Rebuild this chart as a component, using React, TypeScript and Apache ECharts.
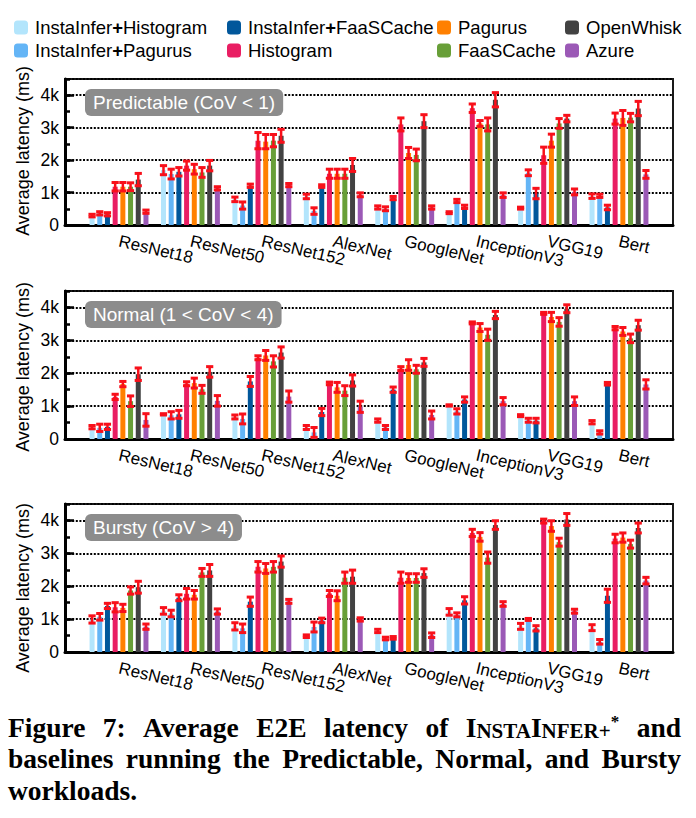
import React, { useEffect, useRef } from "react";
import * as echarts from "echarts";

// ---------------- data ----------------
const models = ["ResNet18", "ResNet50", "ResNet152", "AlexNet", "GoogleNet", "InceptionV3", "VGG19", "Bert"];
const methods = [
  "InstaInfer+Histogram",
  "InstaInfer+Pagurus",
  "InstaInfer+FaaSCache",
  "Histogram",
  "Pagurus",
  "FaaSCache",
  "OpenWhisk",
  "Azure",
];
const panelTitles = ["Predictable (CoV < 1)", "Normal (1 < CoV < 4)", "Bursty (CoV > 4)"];
const yTickLabels = ["0", "1k", "2k", "3k", "4k"];
const yAxisTitle = "Average latency (ms)";

// rows follow `methods`, columns follow `models` (ms)
const predictableLatency = [
  [290, 1690, 790, 880, 540, 380, 520, 890],
  [360, 1570, 600, 430, 500, 740, 1610, 900],
  [330, 1640, 1210, 1200, 830, 560, 970, 540],
  [1180, 1830, 2600, 1580, 3100, 3600, 2150, 3280],
  [1180, 1720, 2570, 1580, 2220, 3130, 2600, 3300],
  [1180, 1620, 2600, 1580, 2160, 3100, 3130, 3310],
  [1400, 1830, 2750, 1850, 3200, 3860, 3280, 3590],
  [410, 1130, 1230, 930, 540, 920, 1020, 1560],
];
const predictableError = [
  [40, 140, 70, 70, 50, 30, 30, 70],
  [50, 150, 110, 100, 60, 50, 90, 50],
  [50, 130, 50, 40, 50, 50, 160, 70],
  [130, 140, 250, 140, 200, 130, 250, 170],
  [130, 150, 220, 140, 170, 90, 200, 230],
  [120, 150, 190, 140, 180, 200, 150, 130],
  [190, 160, 200, 200, 200, 220, 100, 220],
  [50, 50, 50, 60, 50, 70, 90, 120],
];
const normalLatency = [
  [360, 750, 670, 350, 560, 1020, 710, 510],
  [340, 720, 610, 200, 350, 840, 570, 200],
  [370, 750, 1750, 820, 1500, 1200, 560, 1680],
  [1280, 1680, 2470, 1690, 2140, 3530, 3820, 3370],
  [1670, 1700, 2540, 1570, 2250, 3390, 3710, 3270],
  [1150, 1510, 2360, 1470, 2120, 3170, 3560, 3060],
  [1970, 2040, 2630, 1780, 2330, 3770, 3960, 3460],
  [580, 1160, 1290, 980, 730, 1150, 1150, 1660],
];
const normalError = [
  [50, 20, 60, 60, 50, 20, 30, 50],
  [110, 110, 150, 150, 60, 80, 60, 50],
  [80, 120, 150, 110, 80, 80, 70, 40],
  [80, 60, 60, 40, 60, 30, 30, 50],
  [80, 150, 150, 150, 160, 120, 140, 120],
  [160, 120, 170, 150, 120, 170, 130, 130],
  [190, 160, 170, 170, 120, 110, 120, 150],
  [190, 160, 170, 170, 120, 110, 130, 140],
];
const burstyLatency = [
  [990, 1250, 780, 480, 640, 1220, 780, 740],
  [1070, 1170, 720, 760, 410, 1130, 990, 310],
  [1400, 1650, 1530, 960, 430, 1570, 720, 1710],
  [1360, 1770, 2590, 1780, 2260, 3620, 3980, 3450],
  [1340, 1740, 2540, 1710, 2250, 3500, 3830, 3480],
  [1870, 2420, 2590, 2260, 2250, 2870, 3340, 3280],
  [1970, 2480, 2750, 2290, 2400, 3860, 4030, 3770],
  [770, 1230, 1540, 990, 510, 1460, 1240, 2170],
];
const burstyError = [
  [110, 100, 110, 40, 50, 100, 90, 90],
  [100, 100, 130, 150, 40, 60, 30, 70],
  [80, 90, 140, 70, 40, 110, 80, 200],
  [140, 160, 160, 90, 170, 110, 60, 130],
  [110, 130, 150, 150, 130, 130, 160, 140],
  [110, 120, 160, 170, 130, 170, 120, 120],
  [180, 180, 170, 200, 130, 130, 180, 150],
  [80, 80, 60, 50, 70, 70, 60, 100],
];

// caption words
const captionLine1 = ["Figure", "7:", "Average", "E2E", "latency", "of", "INSTAINFER+*", "and"];
const captionLine2 = ["baselines", "running", "the", "Predictable,", "Normal,", "and", "Bursty"];
const captionLine3 = ["workloads."];

// ---------------- styling / layout ----------------
const colors = ["#b3e5fc", "#64b5f6", "#01579b", "#e91e63", "#ff8000", "#689f38", "#424242", "#9b59b6"];
const ERR_COLOR = "#f8101a";
const SANS = "'Liberation Sans', Arial, Helvetica, sans-serif";
const SERIF_NAME = "Liberation Serif";
const SERIF = "'Liberation Serif', 'Times New Roman', serif";
const panelTops = [79, 291, 504];
const panelHeights = [146, 148, 148];
const nameCenters = [151, 367, 588];
const FRAME_LEFT = 65;
const FRAME_RIGHT = 23;
const BAR_LEFT = 83.3;
const BAR_RIGHT = 41.3;
const BAR_W = 5;
const GAP = 0.54;
const PITCH = BAR_W * (1 + GAP);
const GROUP_W = methods.length * BAR_W + (methods.length - 1) * BAR_W * GAP;
const Y_MAX = 4500;
const CAP_SIZE = 27.5;
const CAP_SMALL = 21;
const CAP_SUP = 17;
const CAP_LEFT = 8;
const CAP_RIGHT = 681;
const capLineY = [727, 758, 790];

const legendCols = [
  { left: 14, items: [methods[0], methods[1]] },
  { left: 227, items: [methods[2], methods[3]] },
  { left: 437, items: [methods[4], methods[5]] },
  { left: 565, items: [methods[6], methods[7]] },
];

let measureCtx: CanvasRenderingContext2D | null = null;
function textWidth(t: string, size: number) {
  if (!measureCtx) measureCtx = document.createElement("canvas").getContext("2d");
  if (!measureCtx) return t.length * size * 0.5;
  measureCtx.font = `bold ${size}px '${SERIF_NAME}'`;
  return measureCtx.measureText(t).width;
}

// a word rendered as rich text parts (small caps for the system name)
function wordParts(word: string): { rich: string; width: number } {
  if (word === "INSTAINFER+*") {
    const parts: [string, string, number][] = [
      ["n", "I", CAP_SIZE],
      ["s", "NSTA", CAP_SMALL],
      ["n", "I", CAP_SIZE],
      ["s", "NFER+", CAP_SMALL],
      ["sup", "*", CAP_SUP],
    ];
    return {
      rich: parts.map(([k, t]) => `{${k}|${t}}`).join(""),
      width: parts.reduce((a, [, t, s]) => a + textWidth(t, s), 0),
    };
  }
  return { rich: `{n|${word}}`, width: textWidth(word, CAP_SIZE) };
}

function captionLine(words: string[], y: number, justify: boolean) {
  const items = words.map(wordParts);
  const total = items.reduce((a, b) => a + b.width, 0);
  const space = textWidth(" ", CAP_SIZE);
  const gap = justify && items.length > 1 ? (CAP_RIGHT - CAP_LEFT - total) / (items.length - 1) : space;
  const rich = {
    n: { fontSize: CAP_SIZE, fontWeight: "bold", fontFamily: SERIF, fill: "#000", verticalAlign: "bottom" },
    s: { fontSize: CAP_SMALL, fontWeight: "bold", fontFamily: SERIF, fill: "#000", verticalAlign: "bottom" },
    sup: { fontSize: CAP_SUP, fontWeight: "bold", fontFamily: SERIF, fill: "#000", verticalAlign: "top" },
  };
  let x = CAP_LEFT;
  return items.map((it) => {
    const el = {
      type: "text",
      x,
      y,
      style: { text: it.rich, rich, textVerticalAlign: "middle" },
    };
    x += it.width + gap;
    return el;
  });
}

function buildOption() {
  const latency = [predictableLatency, normalLatency, burstyLatency];
  const errors = [predictableError, normalError, burstyError];
  const grid: any[] = [];
  const xAxis: any[] = [];
  const yAxis: any[] = [];
  const series: any[] = [];
  const graphic: any[] = [];
  const title: any[] = [];

  for (let p = 0; p < 3; p++) {
    const top = panelTops[p];
    const height = panelHeights[p];
    grid.push({
      left: FRAME_LEFT,
      right: FRAME_RIGHT,
      top,
      height,
      show: true,
      borderColor: "#1a1a1a",
      borderWidth: 2,
      backgroundColor: "transparent",
      outerBoundsMode: "none",
      containLabel: false,
    });
    grid.push({
      left: BAR_LEFT,
      right: BAR_RIGHT,
      top,
      height,
      outerBoundsMode: "none",
      containLabel: false,
    });
    xAxis.push({
      type: "value",
      gridIndex: 2 * p,
      min: 0,
      max: 1,
      axisLine: { show: true, onZero: false, lineStyle: { color: "#000", width: 3 } },
      axisTick: { show: false },
      axisLabel: { show: false },
      splitLine: { show: false },
    });
    const bx = xAxis.length;
    xAxis.push({
      type: "category",
      gridIndex: 2 * p + 1,
      data: models,
      axisLine: { show: false },
      axisTick: { show: false },
      splitLine: { show: false },
      axisLabel: {
        interval: 0,
        rotate: -13,
        margin: 16,
        fontSize: 17,
        color: "#000",
        fontFamily: SANS,
      },
    });
    yAxis.push({
      type: "value",
      gridIndex: 2 * p,
      min: 0,
      max: Y_MAX,
      interval: 1000,
      axisLine: { show: true, onZero: false, lineStyle: { color: "#000", width: 3 } },
      axisTick: { show: true, inside: true, length: 9, lineStyle: { color: "#000", width: 2.5 } },
      axisLabel: {
        showMaxLabel: false,
        margin: 6,
        fontSize: 17.5,
        color: "#000",
        fontFamily: SANS,
        formatter: (v: number) => yTickLabels[Math.round(v / 1000)] ?? "",
      },
      splitLine: { show: true, lineStyle: { color: "#000", width: 2, type: [2, 1.6] } },
    });
    const by = yAxis.length;
    yAxis.push({
      type: "value",
      gridIndex: 2 * p + 1,
      min: 0,
      max: Y_MAX,
      interval: 500,
      offset: BAR_LEFT - FRAME_LEFT,
      axisLine: { show: false },
      axisTick: { show: true, inside: true, length: 5, lineStyle: { color: "#000", width: 2.5 } },
      axisLabel: { show: false },
      splitLine: { show: false },
    });

    methods.forEach((m, s) => {
      series.push({
        type: "bar",
        name: m,
        xAxisIndex: bx,
        yAxisIndex: by,
        data: latency[p][s],
        barWidth: BAR_W,
        barGap: `${GAP * 100}%`,
        itemStyle: { color: colors[s] },
        emphasis: { disabled: true },
        z: 2,
      });
    });

    const errData: number[][] = [];
    methods.forEach((_, s) => {
      models.forEach((__, c) => {
        errData.push([c, latency[p][s][c], errors[p][s][c], s]);
      });
    });
    series.push({
      type: "custom",
      name: "err" + p,
      xAxisIndex: bx,
      yAxisIndex: by,
      z: 10,
      silent: true,
      encode: { x: 0, y: 1 },
      data: errData,
      renderItem: (_params: any, api: any) => {
        const cat = api.value(0);
        const v = api.value(1);
        const e = api.value(2);
        const s = api.value(3);
        const c = api.coord([cat, v]);
        const x = c[0] - GROUP_W / 2 + BAR_W / 2 + s * PITCH;
        const yHi = api.coord([cat, v + e])[1];
        const yLo = api.coord([cat, Math.max(0, v - e)])[1];
        const hw = 3.6;
        return {
          type: "group",
          children: [
            { type: "line", shape: { x1: x, y1: yHi, x2: x, y2: yLo }, style: { stroke: ERR_COLOR, lineWidth: 2.5 } },
            { type: "line", shape: { x1: x - hw, y1: yHi, x2: x + hw, y2: yHi }, style: { stroke: ERR_COLOR, lineWidth: 3 } },
            { type: "line", shape: { x1: x - hw, y1: yLo, x2: x + hw, y2: yLo }, style: { stroke: ERR_COLOR, lineWidth: 3 } },
          ],
        };
      },
    });

    title.push({
      text: panelTitles[p],
      left: 85,
      top: top + 10,
      padding: [4, 8],
      backgroundColor: "#8c8c8c",
      borderRadius: 6,
      textStyle: { color: "#fff", fontSize: 19, fontWeight: "normal", fontFamily: SANS },
    });

    graphic.push({
      type: "text",
      x: 23,
      y: nameCenters[p],
      rotation: Math.PI / 2,
      style: {
        text: yAxisTitle,
        fill: "#000",
        fontSize: 18,
        fontFamily: SANS,
        textAlign: "center",
        textVerticalAlign: "middle",
      },
    });
  }

  graphic.push(...captionLine(captionLine1, capLineY[0], true));
  graphic.push(...captionLine(captionLine2, capLineY[1], true));
  graphic.push(...captionLine(captionLine3, capLineY[2], false));

  const legend = legendCols.map((col) => ({
    data: col.items,
    orient: "vertical",
    left: col.left,
    top: 18,
    itemWidth: 14,
    itemHeight: 14,
    itemGap: 4,
    icon: "roundRect",
    selectedMode: false,
    padding: 0,
    textStyle: {
      fontSize: 18.5,
      color: "#000",
      fontFamily: SANS,
      padding: [0, 0, 0, 2],
      rich: { b: { fontSize: 18.5, fontWeight: "bold", fontFamily: SANS, color: "#000" } },
    },
    formatter: (name: string) => name.split("+").join("{b|+}"),
  }));

  return {
    animation: false,
    backgroundColor: "#fff",
    textStyle: { fontFamily: SANS },
    title,
    legend,
    grid,
    xAxis,
    yAxis,
    series,
    graphic,
  };
}

export default function App() {
  const ref = useRef<HTMLDivElement>(null);
  useEffect(() => {
    if (!ref.current) return;
    const chart = echarts.init(ref.current, undefined, { renderer: "svg" });
    chart.setOption(buildOption() as any);
    return () => chart.dispose();
  }, []);
  return (
    <div
      ref={ref}
      style={{ position: "fixed", left: 0, top: 0, width: 696, height: 818, background: "#fff" }}
    />
  );
}
